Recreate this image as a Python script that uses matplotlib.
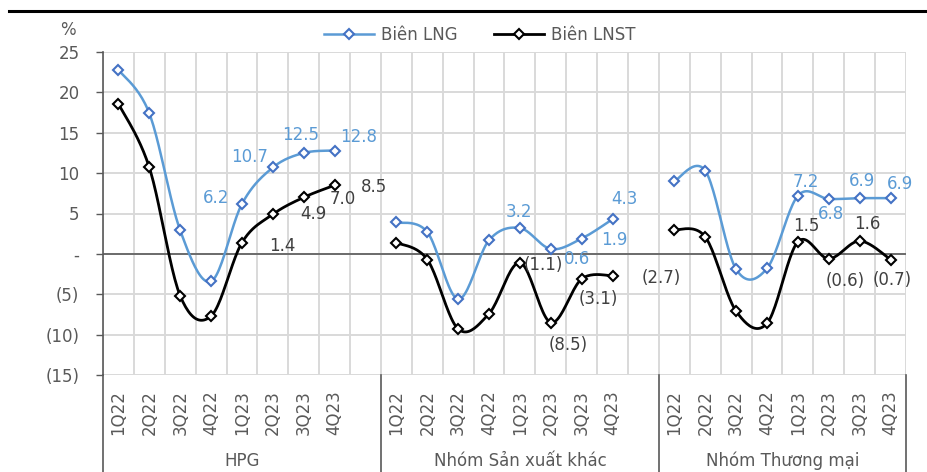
import matplotlib.pyplot as plt
import numpy as np
from matplotlib.lines import Line2D
from matplotlib.transforms import blended_transform_factory

plt.rcParams['font.family'] = ['DejaVu Sans']

# dữ liệu (%)
quarters = ["1Q22", "2Q22", "3Q22", "4Q22", "1Q23", "2Q23", "3Q23", "4Q23"]
groups = ["HPG", "Nhóm Sản xuất khác", "Nhóm Thương mại"]

hpg_lng = [22.8, 17.4, 2.9, -3.4, 6.2, 10.7, 12.5, 12.8]
hpg_lnst = [18.6, 10.7, -5.2, -7.7, 1.4, 4.9, 7.0, 8.5]
sx_lng = [3.9, 2.7, -5.6, 1.7, 3.2, 0.6, 1.9, 4.3]
sx_lnst = [1.4, -0.7, -9.3, -7.4, -1.1, -8.5, -3.1, -2.7]
tm_lng = [9.0, 10.3, -1.9, -1.8, 7.2, 6.8, 6.9, 6.9]
tm_lnst = [3.0, 2.1, -7.1, -8.6, 1.5, -0.6, 1.6, -0.7]

yticks = [25, 20, 15, 10, 5, 0, -5, -10, -15]

# vị trí nhãn dữ liệu (offset pixel), None = không hiển thị
hpg_lng_off = [None] * 4 + [(-26, 6), (-23, 10), (-3, 18), (24, 14)]
hpg_lnst_off = [None] * 4 + [(40, -3), (41, 0), (39, -2), (39, -2)]
sx_lng_off = [None] * 4 + [(-1, 16), (26, -10), (33, -1), (12, 20)]
sx_lnst_off = [None] * 4 + [(23, -2), (17, -22), (17, -20), (49, -2)]
tm_lng_off = [None] * 4 + [(8, 14), (2, -15), (2, 17), (9, 14)]
tm_lnst_off = [None] * 4 + [(8, 16), (16, -22), (8, 17), (2, -20)]

C_LNG = "#5B9BD5"
C_LNG_MK = "#4472C4"
C_LNST = "#000000"
C_TXT = "#595959"
C_LBL2 = "#404040"


def smooth(x, y, n=24):
    # kiểu đường cong "smoothed line" của Excel (Catmull-Rom / Bezier)
    p = np.column_stack([x, y]).astype(float)
    pts = [p[0]] + list(p) + [p[-1]]
    out = []
    t = np.linspace(0, 1, n)
    for i in range(1, len(pts) - 2):
        p0, p1, p2, p3 = pts[i - 1], pts[i], pts[i + 1], pts[i + 2]
        c1 = p1 + (p2 - p0) / 6
        c2 = p2 - (p3 - p1) / 6
        seg = ((1 - t) ** 3)[:, None] * p1 + (3 * (1 - t) ** 2 * t)[:, None] * c1 \
            + (3 * (1 - t) * t ** 2)[:, None] * c2 + (t ** 3)[:, None] * p2
        out.append(seg)
    out = np.vstack(out)
    return out[:, 0], out[:, 1]


def fmt(v):
    return f"({abs(v):.1f})" if v < 0 else f"{v:.1f}"


fig = plt.figure(figsize=(9.28, 4.72), dpi=100)
ax = fig.add_axes([103 / 928, 1 - 375 / 472, (906 - 103) / 928, (375 - 52) / 472])

series = [
    (hpg_lng, hpg_lnst, hpg_lng_off, hpg_lnst_off),
    (sx_lng, sx_lnst, sx_lng_off, sx_lnst_off),
    (tm_lng, tm_lnst, tm_lng_off, tm_lnst_off),
]

xt, xl = [], []
for g, (lng, lnst, o1, o2) in enumerate(series):
    x = np.arange(len(quarters)) + g * 9
    xt += list(x)
    xl += quarters
    for vals, offs, lc, mc, lw, lblc in [
        (lng, o1, C_LNG, C_LNG_MK, 1.8, C_LNG),
        (lnst, o2, C_LNST, C_LNST, 2.0, C_LBL2),
    ]:
        sx, sy = smooth(x, vals)
        ax.plot(sx, sy, color=lc, lw=lw, zorder=3, solid_capstyle="round")
        ax.plot(x, vals, ls="none", marker="D", ms=5, mfc="white", mec=mc,
                mew=1.5, zorder=4)
        for xi, v, off in zip(x, vals, offs):
            if off is None:
                continue
            ax.annotate(fmt(v), (xi, v), xytext=off, textcoords="offset pixels",
                        ha="center", va="center", fontsize=12, color=lblc, zorder=5)

ax.set_xlim(-0.5, 25.5)
ax.set_ylim(-15, 25)
ax.set_yticks(yticks)
ax.set_yticklabels(["-" if v == 0 else (f"({-v})" if v < 0 else str(v)) for v in yticks])
ax.set_xticks(xt)
ax.set_xticklabels(xl, rotation=90, fontsize=12, color=C_TXT)
ax.set_xticks(np.arange(-0.5, 26, 1), minor=True)
ax.tick_params(axis="x", which="both", length=0, pad=11)
ax.tick_params(axis="y", length=5, width=1, color=C_TXT, labelsize=12,
               labelcolor=C_TXT, pad=12)
ax.grid(axis="x", which="minor", color="#D9D9D9", lw=1.4)
ax.grid(axis="y", which="major", color="#D9D9D9", lw=1.4)
ax.set_axisbelow(True)
ax.axhline(0, color=C_TXT, lw=1.2, zorder=2)
for s in ["top", "right", "bottom"]:
    ax.spines[s].set_visible(False)
ax.spines["left"].set_color(C_TXT)
ax.spines["left"].set_linewidth(1.2)

trans = blended_transform_factory(ax.transData, ax.transAxes)
for xs in [-0.5, 8.5, 17.5, 25.5]:
    ax.plot([xs, xs], [0, -0.32], transform=trans, color=C_TXT, lw=1.2,
            clip_on=False)
for g, name in enumerate(groups):
    cx = (g * 9 - 0.5 + min(g * 9 + 8.5, 25.5)) / 2
    ax.text(cx, (375 - 470) / 323, name, transform=trans, ha="center",
            va="bottom", fontsize=12, color=C_TXT)

fig.text(68 / 928, 1 - 30 / 472, "%", ha="center", va="center",
         fontsize=12, color=C_TXT)
fig.add_artist(Line2D([9 / 928, 1], [1 - 11 / 472, 1 - 11 / 472], color="black",
                      lw=2.2))

handles = [
    Line2D([], [], color=C_LNG, lw=1.8, marker="D", ms=5, mfc="white",
           mec=C_LNG_MK, mew=1.5),
    Line2D([], [], color=C_LNST, lw=2.0, marker="D", ms=5, mfc="white",
           mec=C_LNST, mew=1.5),
]
leg = fig.legend(handles, ["Biên LNG", "Biên LNST"], loc="center",
                 bbox_to_anchor=(480 / 928, 1 - 35 / 472), ncol=2, frameon=False,
                 fontsize=12, handlelength=3.0, columnspacing=2.2, handletextpad=0.4)
for t in leg.get_texts():
    t.set_color(C_TXT)

fig.savefig("out.png", dpi=100)
